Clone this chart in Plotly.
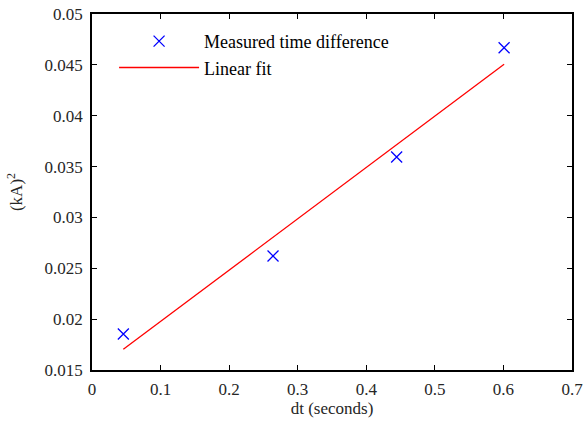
import plotly.graph_objects as go

dt_measured = [0.0457, 0.264, 0.4443, 0.601]
ka2_measured = [0.01854, 0.02621, 0.03594, 0.04669]
dt_fit = [0.0457, 0.601]
ka2_fit = [0.01703, 0.04505]

x_ticks = [0, 0.1, 0.2, 0.3, 0.4, 0.5, 0.6, 0.7]
x_ticktext = ["0", "0.1", "0.2", "0.3", "0.4", "0.5", "0.6", "0.7"]
y_ticks = [0.015, 0.02, 0.025, 0.03, 0.035, 0.04, 0.045, 0.05]
y_ticktext = ["0.015", "0.02", "0.025", "0.03", "0.035", "0.04", "0.045", "0.05"]

font = "Liberation Serif"

fig = go.Figure()
fig.add_trace(go.Scatter(
    x=dt_measured, y=ka2_measured, mode="markers",
    name="Measured time difference",
    marker=dict(symbol="x-thin", size=11, line=dict(color="#0000ff", width=1.3), color="#0000ff"),
))
fig.add_trace(go.Scatter(
    x=dt_fit, y=ka2_fit, mode="lines", name="Linear fit",
    line=dict(color="#ff0000", width=1.3),
))

axis_common = dict(
    showline=True, linecolor="black", linewidth=1.5, mirror="ticks",
    ticks="inside", ticklen=5, tickcolor="black", tickwidth=1,
    showgrid=False, zeroline=False, automargin=False,
    tickfont=dict(family=font, size=17, color="#262626"),
)

fig.update_layout(
    width=586, height=424,
    margin=dict(l=92, r=14, t=14, b=54, autoexpand=False),
    paper_bgcolor="white", plot_bgcolor="white",
    font=dict(family=font, size=17, color="#262626"),
    xaxis=dict(range=[0, 0.7], tickvals=x_ticks, ticktext=x_ticktext,
               ticklabelstandoff=3,
               title=dict(text="dt (seconds)", font=dict(family=font, size=17), standoff=4),
               **axis_common),
    yaxis=dict(range=[0.015, 0.05], tickvals=y_ticks, ticktext=y_ticktext,
               ticklabelstandoff=4,
               title=dict(text="(kA)<sup>2</sup>", font=dict(family=font, size=17), standoff=18),
               **axis_common),
    legend=dict(x=0.046, y=0.975, xanchor="left", yanchor="top",
                bgcolor="rgba(0,0,0,0)", borderwidth=0,
                font=dict(family=font, size=18, color="black"),
                itemwidth=80, tracegroupgap=0),
    showlegend=True,
)

fig.write_html("out.html")
